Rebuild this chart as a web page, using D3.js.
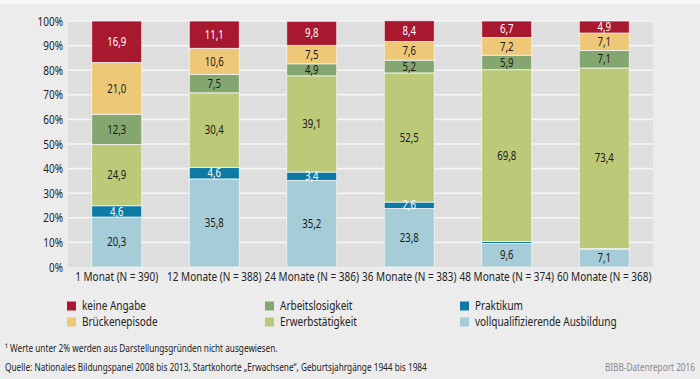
<!DOCTYPE html>
<html><head><meta charset="utf-8">
<script src="https://cdn.jsdelivr.net/npm/d3@7"></script>
<style>
html,body{margin:0;padding:0;background:#ececec;}
svg{display:block;}
text{font-family:"Noto Sans",sans-serif;}
</style></head>
<body>
<svg id="chart" width="700" height="379"></svg>
<script>
const categories = ["1 Monat (N = 390)","12 Monate (N = 388)","24 Monate (N = 386)","36 Monate (N = 383)","48 Monate (N = 374)","60 Monate (N = 368)"];
const seriesNames = ["vollqualifizierende Ausbildung","Praktikum","Erwerbstätigkeit","Arbeitslosigkeit","Brückenepisode","keine Angabe"];
const ausbildung = [20.3,35.8,35.2,23.8,9.6,7.1];
const praktikum = [4.6,4.6,3.4,2.6,0.8,0.4];
const erwerb = [24.9,30.4,39.1,52.5,69.8,73.4];
const arbeitslos = [12.3,7.5,4.9,5.2,5.9,7.1];
const bruecke = [21.0,10.6,7.5,7.6,7.2,7.1];
const keineAngabe = [16.9,11.1,9.8,8.4,6.7,4.9];
const yTicks = [0,10,20,30,40,50,60,70,80,90,100];
const colors = ["#a6ccd8","#0d7aa6","#bcc978","#84a770","#efc877","#a8182f"];
const labelColors = ["#1a1a1a","#ffffff","#1a1a1a","#1a1a1a","#1a1a1a","#ffffff"];
const legendOrder = ["keine Angabe","Brückenepisode","Arbeitslosigkeit","Erwerbstätigkeit","Praktikum","vollqualifizierende Ausbildung"];
const footnote = "¹ Werte unter 2% werden aus Darstellungsgründen nicht ausgewiesen.";
const source = "Quelle: Nationales Bildungspanel 2008 bis 2013, Startkohorte „Erwachsene\u201C, Geburtsjahrgänge 1944 bis 1984";
const credit = "BIBB-Datenreport 2016";

const SX = 0.8;
function condense(sel){
  sel.each(function(){
    const t=d3.select(this); const xv=+t.attr("x")||0;
    t.attr("x", xv/SX).attr("transform", `scale(${SX},1)`);
  });
}

const allSeries = [ausbildung,praktikum,erwerb,arbeitslos,bruecke,keineAngabe];
const rows = categories.map((c,i)=>{const o={cat:c}; seriesNames.forEach((s,j)=>o[s]=allSeries[j][i]); return o;});
const stack = d3.stack().keys(seriesNames)(rows);

const svg = d3.select("#chart");
svg.append("rect").attr("width",700).attr("height",379).attr("fill","#ececec");
svg.append("rect").attr("width",700).attr("height",4).attr("fill","#f7f7f7");

const L=68,R=653,T=21,B=267;
const x = d3.scaleBand().domain(categories).range([L,R]).paddingInner(0.487).paddingOuter(0.2435);
const y = d3.scaleLinear().domain([0,100]).range([B,T]);

svg.append("rect").attr("x",L).attr("y",T).attr("width",R-L).attr("height",B-T).attr("fill","#dedede");
svg.append("g").selectAll("line").data(yTicks.filter(d=>d>0)).join("line")
  .attr("x1",L).attr("x2",R).attr("y1",d=>y(d)).attr("y2",d=>y(d))
  .attr("stroke","#f6f6f6").attr("stroke-width",1.6);

const FF = '"Noto Sans",sans-serif';
const yAxis = svg.append("g").attr("transform",`translate(${L},0)`)
  .call(d3.axisLeft(y).tickValues(yTicks).tickSize(0).tickPadding(5).tickFormat(d=>d+"%"));
yAxis.select(".domain").remove();
yAxis.selectAll("text").attr("font-size",12.5).attr("fill","#222").style("font-family",FF).call(condense);

const xAxis = svg.append("g").attr("transform",`translate(0,${B})`)
  .call(d3.axisBottom(x).tickSize(0).tickPadding(5));
xAxis.select(".domain").remove();
xAxis.selectAll("text").attr("font-size",12.5).attr("fill","#222").style("font-family",FF).call(condense);

const layers = svg.append("g").selectAll("g").data(stack).join("g").attr("fill",(d,i)=>colors[i]);
layers.selectAll("rect").data(d=>d).join("rect")
  .attr("x",d=>x(d.data.cat)).attr("width",x.bandwidth())
  .attr("y",d=>y(d[1])).attr("height",d=>y(d[0])-y(d[1]))
  .attr("stroke","#f4f4f4").attr("stroke-width",0.8);

const lab = svg.append("g");
stack.forEach((s,i)=>{
  s.forEach(d=>{
    const v = d[1]-d[0];
    if (v < 2) return;
    lab.append("text").attr("x",x(d.data.cat)+x.bandwidth()/2)
      .attr("y",(y(d[0])+y(d[1]))/2).attr("dy","0.35em")
      .attr("text-anchor","middle").attr("font-size",12).attr("fill",labelColors[i])
      .text(d3.format(".1f")(d.data[s.key]).replace(".",","));
  });
});
lab.selectAll("text").call(condense);

const legX=[67,265,460], legY=[306,322];
const leg = svg.append("g");
legendOrder.forEach((name,k)=>{
  const col=Math.floor(k/2), row=k%2;
  const idx = seriesNames.indexOf(name);
  leg.append("rect").attr("x",legX[col]).attr("y",legY[row]-4.5).attr("width",9).attr("height",9).attr("fill",colors[idx]);
  leg.append("text").attr("x",legX[col]+15).attr("y",legY[row]).attr("dy","0.35em")
    .attr("font-size",12.5).attr("fill","#222").text(name);
});
leg.selectAll("text").call(condense);

const foot = svg.append("g");
foot.append("text").attr("x",5).attr("y",348).attr("dy","0.35em").attr("font-size",10.3).attr("fill","#222").text(footnote);
foot.append("text").attr("x",5).attr("y",367).attr("dy","0.35em").attr("font-size",10.3).attr("fill","#222").text(source);
foot.append("text").attr("x",695).attr("y",367).attr("dy","0.35em").attr("text-anchor","end").attr("font-size",10.3).attr("fill","#8a8a8a").text(credit);
foot.selectAll("text").call(condense);
</script>
</body></html>
